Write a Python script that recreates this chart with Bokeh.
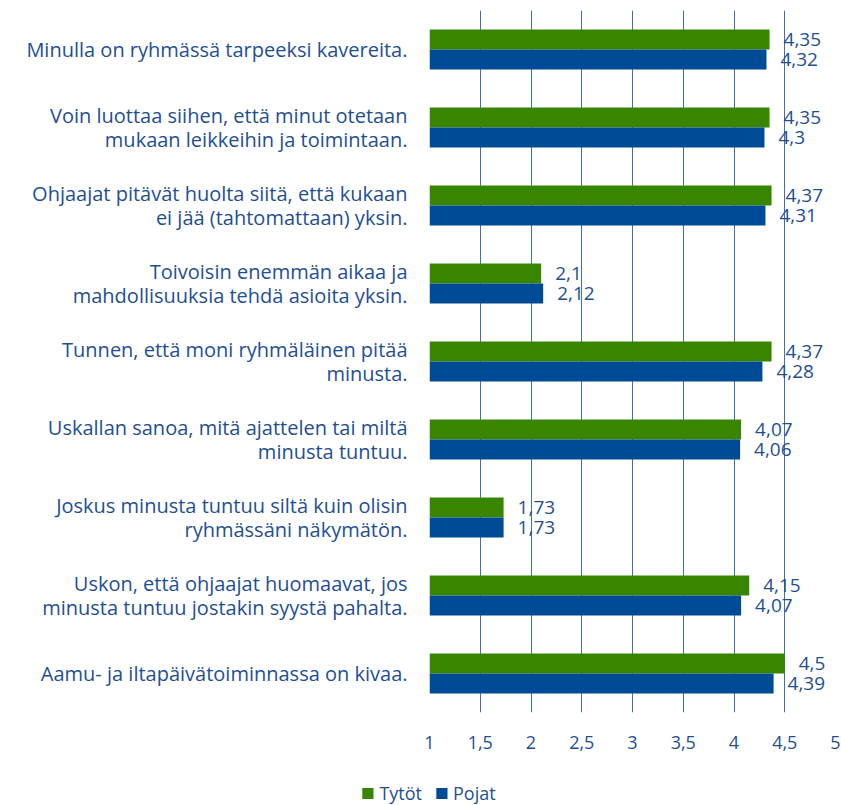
from bokeh.plotting import figure
from bokeh.models import Range1d, FixedTicker, ColumnDataSource, Legend, LegendItem
from bokeh.core.properties import value
from bokeh.embed import file_html
from bokeh.resources import INLINE

categories = [
    "Minulla on ryhmässä tarpeeksi kavereita.",
    "Voin luottaa siihen, että minut otetaan\nmukaan leikkeihin ja toimintaan.",
    "Ohjaajat pitävät huolta siitä, että kukaan\nei jää (tahtomattaan) yksin.",
    "Toivoisin enemmän aikaa ja\nmahdollisuuksia tehdä asioita yksin.",
    "Tunnen, että moni ryhmäläinen pitää\nminusta.",
    "Uskallan sanoa, mitä ajattelen tai miltä\nminusta tuntuu.",
    "Joskus minusta tuntuu siltä kuin olisin\nryhmässäni näkymätön.",
    "Uskon, että ohjaajat huomaavat, jos\nminusta tuntuu jostakin syystä pahalta.",
    "Aamu- ja iltapäivätoiminnassa on kivaa.",
]
tytot = [4.35, 4.35, 4.37, 2.1, 4.37, 4.07, 1.73, 4.15, 4.5]
pojat = [4.32, 4.3, 4.31, 2.12, 4.28, 4.06, 1.73, 4.07, 4.39]
series_names = ["Tytöt", "Pojat"]
x_ticks = [1, 1.5, 2, 2.5, 3, 3.5, 4, 4.5, 5]

GREEN = "#388600"
BLUE = "#004b96"
TEXT = "#1f4f93"
GRID = "#3f6fae"
FONT = "Open Sans"

n = len(categories)
centers = [i + 0.5 for i in range(n)]
bh = 0.256


def fmt(v):
    return ("%g" % v).replace(".", ",")


src_t = ColumnDataSource(dict(y=[c - bh / 2 for c in centers], right=tytot,
                              lbl=[fmt(v) for v in tytot]))
src_p = ColumnDataSource(dict(y=[c + bh / 2 for c in centers], right=pojat,
                              lbl=[fmt(v) for v in pojat]))

p = figure(width=841, height=762, output_backend="svg", toolbar_location=None,
           x_range=Range1d(1, 5), y_range=Range1d(n, 0),
           min_border_left=429, min_border_right=6, min_border_top=10,
           min_border_bottom=50)
p.outline_line_color = None
p.background_fill_color = "white"

r_t = p.hbar(y="y", left=1, right="right", height=bh, source=src_t,
             fill_color=GREEN, line_color=None)
r_p = p.hbar(y="y", left=1, right="right", height=bh, source=src_p,
             fill_color=BLUE, line_color=None)

for src in (src_t, src_p):
    p.text(x="right", y="y", text="lbl", source=src, x_offset=14,
           text_align="left", text_baseline="middle", text_color=TEXT,
           text_font=value(FONT), text_font_size="19px")

# x axis
p.xaxis.ticker = FixedTicker(ticks=x_ticks)
p.xaxis.major_label_overrides = {t: fmt(t) for t in x_ticks}
p.xaxis.axis_line_color = None
p.xaxis.major_tick_line_color = None
p.xaxis.minor_tick_line_color = None
p.xaxis.major_tick_out = 0
p.xaxis.major_tick_in = 0
p.xaxis.major_label_text_color = TEXT
p.xaxis.major_label_text_font = FONT
p.xaxis.major_label_text_font_size = "18px"
p.xaxis.major_label_standoff = 23

# y axis
p.yaxis.ticker = FixedTicker(ticks=centers)
p.yaxis.major_label_overrides = {c: lab for c, lab in zip(centers, categories)}
p.yaxis.axis_line_color = None
p.yaxis.major_tick_line_color = None
p.yaxis.minor_tick_line_color = None
p.yaxis.major_tick_out = 0
p.yaxis.major_tick_in = 0
p.yaxis.major_label_text_color = TEXT
p.yaxis.major_label_text_font = FONT
p.yaxis.major_label_text_font_size = "20px"
p.yaxis.major_label_text_line_height = 0.92
p.yaxis.major_label_standoff = 22

p.xgrid.ticker = FixedTicker(ticks=x_ticks)
p.xgrid.grid_line_color = GRID
p.xgrid.grid_line_width = 1
p.ygrid.grid_line_color = None

# separate legend strip below the chart (its proxy bars lie outside its view)
lg = figure(width=841, height=43, output_backend="svg", toolbar_location=None,
            x_range=Range1d(-2, -1), y_range=Range1d(-2, -1),
            min_border_left=15, min_border_right=0, min_border_top=19,
            min_border_bottom=0)
lg.axis.visible = False
lg.grid.visible = False
lg.outline_line_color = None
d_t = lg.hbar(y="y", left=1, right="right", height=bh, source=src_t,
              fill_color=GREEN, line_color=None)
d_p = lg.hbar(y="y", left=1, right="right", height=bh, source=src_p,
              fill_color=BLUE, line_color=None)
legend = Legend(items=[LegendItem(label=series_names[0], renderers=[d_t]),
                       LegendItem(label=series_names[1], renderers=[d_p])],
                orientation="horizontal", location="center",
                label_text_font=FONT, label_text_font_size="18px",
                label_text_color=TEXT, glyph_width=14, glyph_height=14,
                spacing=12, label_standoff=5, border_line_color=None,
                background_fill_alpha=0, margin=0, padding=0)
lg.add_layout(legend, "center")

open("out.html", "w").write(file_html([p, lg], INLINE))
